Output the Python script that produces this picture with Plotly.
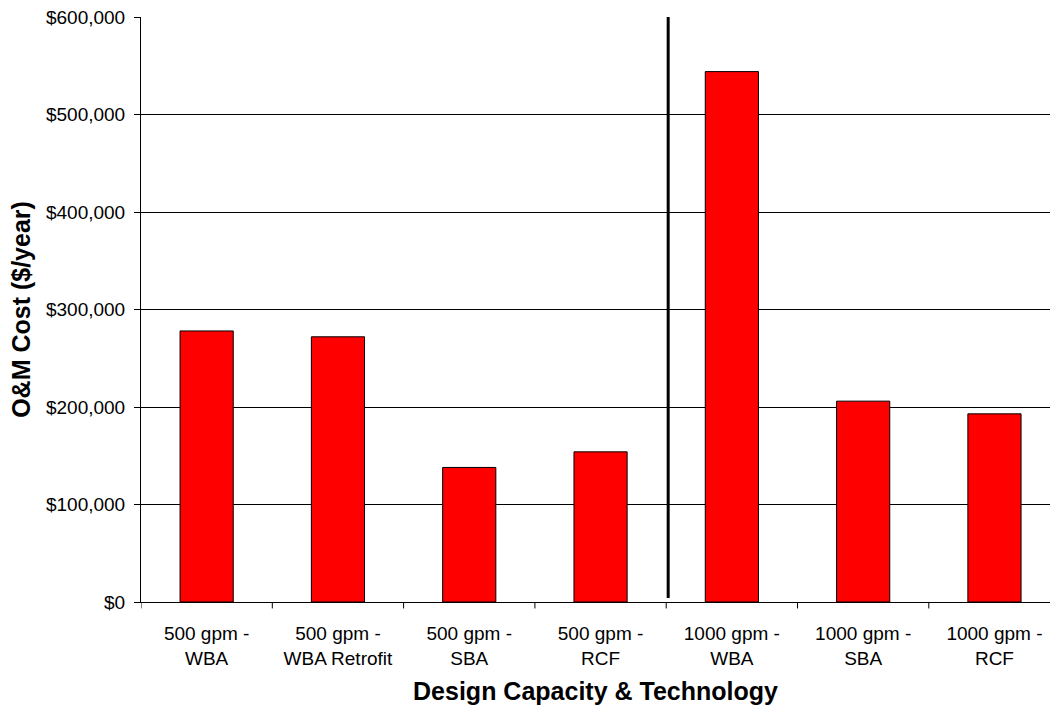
import plotly.graph_objects as go

categories = ["500 gpm -<br>WBA", "500 gpm -<br>WBA Retrofit", "500 gpm -<br>SBA",
              "500 gpm -<br>RCF", "1000 gpm -<br>WBA", "1000 gpm -<br>SBA",
              "1000 gpm -<br>RCF"]
om_cost = [278000, 272000, 138000, 154000, 544000, 206000, 193000]
y_tickvals = [0, 100000, 200000, 300000, 400000, 500000, 600000]
y_ticktext = ["$0", "$100,000", "$200,000", "$300,000", "$400,000", "$500,000", "$600,000"]
separator_after = 3  # vertical divider between 500 gpm and 1000 gpm groups

font_family = "Liberation Sans, Arial, sans-serif"

fig = go.Figure()
fig.add_trace(go.Bar(
    x=list(range(len(categories))), y=om_cost,
    marker=dict(color="#FF0000", line=dict(color="black", width=1)),
    width=0.405,
))

fig.add_shape(type="line", xref="x", yref="y",
              x0=separator_after + 0.515, x1=separator_after + 0.515,
              y0=4000, y1=600000,
              line=dict(color="black", width=3))

fig.update_layout(
    width=1050, height=708,
    margin=dict(l=141, r=0, t=17, b=106),
    paper_bgcolor="white", plot_bgcolor="white",
    showlegend=False,
    font=dict(family=font_family, color="black", size=19),
)
fig.update_xaxes(
    tickmode="array", tickvals=list(range(len(categories))), ticktext=categories,
    range=[-0.5, 6.423], automargin=False,
    showline=True, linecolor="black", linewidth=1,
    ticks="", showgrid=False, zeroline=False,
    tickfont=dict(size=19), ticklabelstandoff=14,
    title=dict(text="<b>Design Capacity & Technology</b>", font=dict(size=25), standoff=14),
)
# boundary ticks for the category axis
for i in range(len(categories)):
    b = i - 0.5
    fig.add_shape(type="line", xref="x", yref="paper", x0=b, x1=b, y0=0, y1=-0.011,
                  line=dict(color="black", width=1))
fig.update_yaxes(
    range=[0, 600000], tickvals=y_tickvals, ticktext=y_ticktext, automargin=False,
    showline=True, linecolor="black", linewidth=1,
    ticks="outside", ticklen=6, tickcolor="black",
    showgrid=True, gridcolor="black", gridwidth=1, zeroline=False,
    tickfont=dict(size=19), ticklabelstandoff=5,
    title=dict(text="<b>O&M Cost ($/year)</b>", font=dict(size=25), standoff=8),
)

fig.write_html("out.html", config={"displayModeBar": False},
               post_script="document.body.style.margin='0';document.body.style.overflow='hidden';")
